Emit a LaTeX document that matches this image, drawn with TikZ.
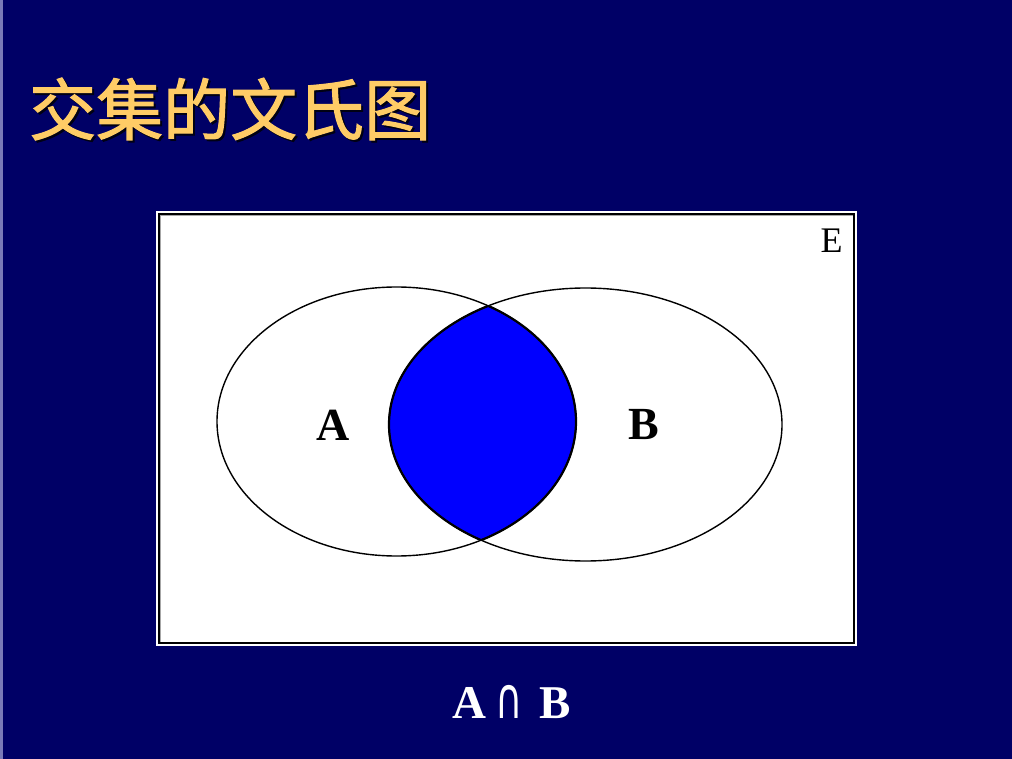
\documentclass[tikz,border=0pt]{standalone}
\usepackage{fontspec}
\setmainfont{Liberation Serif}
\newfontfamily\cjk[FakeBold=1.6]{Noto Sans CJK SC}
\newfontfamily\dejavu{DejaVu Sans}
\definecolor{navybg}{HTML}{000066}
\definecolor{titlegold}{HTML}{FFCC66}
\definecolor{edgeblue}{HTML}{7A7AB8}
\definecolor{fillblue}{HTML}{0000FF}
\begin{document}
\begin{tikzpicture}[x=1pt,y=-1pt,
  titletext/.style={inner sep=0pt,anchor=west,font=\cjk\fontsize{67}{67}\selectfont},
  setlabel/.style={inner sep=0pt,font=\bfseries\fontsize{46}{46}\selectfont},
  venn/.style={draw=black,line width=1.4pt}]
\useasboundingbox (0,0) rectangle (1012,759);
\fill[navybg] (0,0) rectangle (1012,759);
\fill[edgeblue] (0,0) rectangle (2.5,759);
% title with shadow
\node[titletext,text=black!80!navybg] (titleshadow) at (31,111) {交集的文氏图};
\node[titletext,text=titlegold] (title) at (29,109) {交集的文氏图};
% universe box
\fill[white] (156,211) rectangle (857,646);
\draw[black,line width=1.6pt] (158.8,213.8) rectangle (854.2,643.2);
\draw[black!35,line width=0.8pt] (160.4,215.4) -- (160.4,641.6);
\draw[black!35,line width=0.8pt] (160.4,215.4) -- (852.6,215.4);
% intersection
\begin{scope}
  \clip (396.5,421.5) ellipse [x radius=179.5, y radius=134.5];
  \fill[fillblue] (585.5,424.5) ellipse [x radius=196.5, y radius=136.5];
\end{scope}
\draw[venn] (396.5,421.5) ellipse [x radius=179.5, y radius=134.5];
\draw[venn] (585.5,424.5) ellipse [x radius=196.5, y radius=136.5];
\begin{scope}
  \clip (396.5,421.5) ellipse [x radius=179.5, y radius=134.5];
  \draw[line width=2.2pt] (585.5,424.5) ellipse [x radius=196.5, y radius=136.5];
\end{scope}
\begin{scope}
  \clip (585.5,424.5) ellipse [x radius=196.5, y radius=136.5];
  \draw[line width=2.2pt] (396.5,421.5) ellipse [x radius=179.5, y radius=134.5];
\end{scope}
\node[setlabel] (labA) at (333,425) {A};
\node[setlabel] (labB) at (644,425) {B};
\node[inner sep=0pt,font=\fontsize{36}{36}\selectfont] (labE) at (831.5,241) {E};
% formula
\node[inner sep=0pt,text=white,font=\bfseries\fontsize{47}{47}\selectfont] (formula) at (512,702)
  {A\hspace{9pt}\raisebox{0pt}{\scalebox{0.85}[1.3]{\dejavu\mdseries\fontsize{44}{44}\selectfont ∩}}\hspace{17pt}B};
\end{tikzpicture}
\end{document}
